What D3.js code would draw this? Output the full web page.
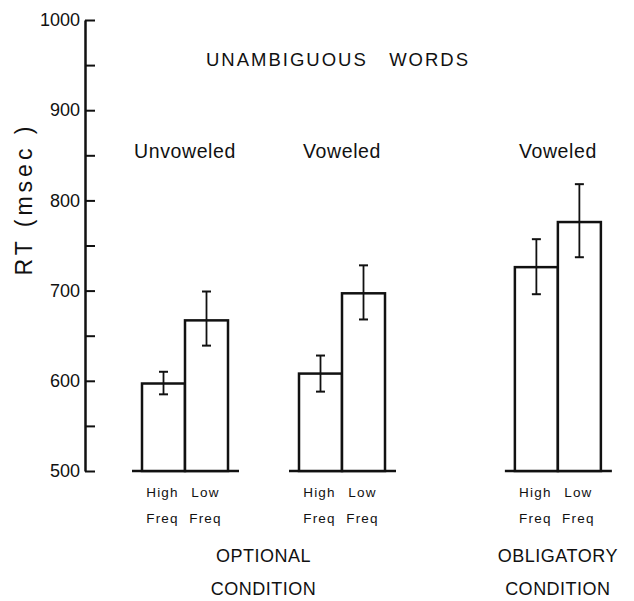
<!DOCTYPE html>
<html>
<head>
<meta charset="utf-8">
<script src="https://cdn.jsdelivr.net/npm/d3@7"></script>
<style>
  body { margin: 0; background: #fff; }
  text { font-family: "Liberation Sans", Arial, sans-serif; fill: #111; }
</style>
</head>
<body>
<div id="container"></div>
<script>
/* DATA */
const groups = ["Unvoweled", "Voweled", "Voweled"];
const conditions = ["OPTIONAL", "OPTIONAL", "OBLIGATORY"];
const freqs = ["High", "Low"];
const rtMean = [[597, 667], [608, 697], [726, 776]];
const rtUpper = [[610, 699], [628, 728], [757, 818]];
const rtLower = [[585, 639], [588, 668], [696, 737]];
const yTicks = [500, 550, 600, 650, 700, 750, 800, 850, 900, 950, 1000];
const yLabels = [500, 600, 700, 800, 900, 1000];

/* CONSTANTS AND GLOBALS */
const width = 634;
const height = 601;
const condGap = 0.375; // extra space between the two conditions, in group units

// one row per bar
const bars = [];
groups.forEach((g, i) => {
  freqs.forEach((f, j) => {
    bars.push({
      group: i,
      freq: f,
      mean: rtMean[i][j],
      hi: rtUpper[i][j],
      lo: rtLower[i][j]
    });
  });
});

const slot = i => i + (conditions[i] !== conditions[0] ? condGap : 0);

/* SCALES */
const yScale = d3.scaleLinear()
  .domain([500, 1000])
  .range([471, 20]);

const xScale = d3.scaleLinear()
  .domain([0, 1])
  .range([185, 342]);

const fScale = d3.scaleBand()
  .domain(freqs)
  .range([-43, 43])
  .padding(0);

const barX = d => xScale(slot(d.group)) + fScale(d.freq);
const barMid = d => barX(d) + fScale.bandwidth() / 2;

/* HTML ELEMENTS */
const svg = d3.select("#container")
  .append("svg")
  .attr("width", width)
  .attr("height", height);

// y axis
const yAxis = d3.axisLeft(yScale)
  .tickValues(yTicks)
  .tickSizeInner(-10)
  .tickSizeOuter(0)
  .tickPadding(5)
  .tickFormat(d => yLabels.includes(d) ? d : "");

const yG = svg.append("g")
  .attr("transform", "translate(85, 0)")
  .call(yAxis);

yG.select(".domain")
  .attr("stroke", "#111")
  .attr("stroke-width", 2.5);
yG.selectAll(".tick line")
  .attr("stroke", "#111")
  .attr("stroke-width", 2);
yG.selectAll(".tick text")
  .style("font-size", "18px")
  .style("font-family", "'Liberation Sans', Arial, sans-serif")
  .attr("fill", "#111");

// y axis title
svg.append("text")
  .attr("transform", "rotate(-90)")
  .attr("x", -199)
  .attr("y", 32)
  .attr("text-anchor", "middle")
  .style("font-size", "23px")
  .style("letter-spacing", "4px")
  .style("white-space", "pre")
  .text("RT (msec )");

// baseline under each group
svg.selectAll(".base")
  .data(groups)
  .join("line")
  .attr("class", "base")
  .attr("x1", (d, i) => xScale(slot(i)) - 53)
  .attr("x2", (d, i) => xScale(slot(i)) + 54)
  .attr("y1", yScale(500))
  .attr("y2", yScale(500))
  .attr("stroke", "#111")
  .attr("stroke-width", 2.5);

// bars
svg.selectAll(".bar")
  .data(bars)
  .join("rect")
  .attr("class", "bar")
  .attr("x", barX)
  .attr("y", d => yScale(d.mean))
  .attr("width", fScale.bandwidth())
  .attr("height", d => yScale(500) - yScale(d.mean))
  .attr("fill", "#fff")
  .attr("stroke", "#111")
  .attr("stroke-width", 2.5);

// error bars
svg.selectAll(".err")
  .data(bars)
  .join("line")
  .attr("class", "err")
  .attr("x1", barMid)
  .attr("x2", barMid)
  .attr("y1", d => yScale(d.hi))
  .attr("y2", d => yScale(d.lo))
  .attr("stroke", "#111")
  .attr("stroke-width", 1.8);

["hi", "lo"].forEach(k => {
  svg.selectAll(".cap-" + k)
    .data(bars)
    .join("line")
    .attr("class", "cap-" + k)
    .attr("x1", d => barMid(d) - 4.5)
    .attr("x2", d => barMid(d) + 4.5)
    .attr("y1", d => yScale(d[k]))
    .attr("y2", d => yScale(d[k]))
    .attr("stroke", "#111")
    .attr("stroke-width", 2);
});

// title
svg.append("text")
  .attr("x", 338)
  .attr("y", 66)
  .attr("text-anchor", "middle")
  .style("font-size", "18.5px")
  .style("letter-spacing", "2px")
  .style("white-space", "pre")
  .text("UNAMBIGUOUS   WORDS");

// group labels
svg.selectAll(".group-label")
  .data(groups)
  .join("text")
  .attr("class", "group-label")
  .attr("x", (d, i) => xScale(slot(i)))
  .attr("y", 158)
  .attr("text-anchor", "middle")
  .style("font-size", "19.5px")
  .style("letter-spacing", "0.6px")
  .text(d => d);

// frequency labels
svg.selectAll(".freq-label")
  .data(bars)
  .join("text")
  .attr("class", "freq-label")
  .attr("x", d => barMid(d) - 1)
  .attr("y", 497)
  .attr("text-anchor", "middle")
  .style("font-size", "13.5px")
  .style("letter-spacing", "1.2px")
  .text(d => d.freq);

svg.selectAll(".freq-label2")
  .data(bars)
  .join("text")
  .attr("class", "freq-label2")
  .attr("x", d => barMid(d) - 1)
  .attr("y", 523)
  .attr("text-anchor", "middle")
  .style("font-size", "13.5px")
  .style("letter-spacing", "1.2px")
  .text("Freq");

// condition labels
const condNames = Array.from(new Set(conditions));
const condX = c => d3.mean(groups.map((g, i) => i).filter(i => conditions[i] === c), i => xScale(slot(i)));

svg.selectAll(".cond-label")
  .data(condNames)
  .join("text")
  .attr("class", "cond-label")
  .attr("x", condX)
  .attr("y", 562)
  .attr("text-anchor", "middle")
  .style("font-size", "18px")
  .style("letter-spacing", "0.5px")
  .text(d => d);

svg.selectAll(".cond-label2")
  .data(condNames)
  .join("text")
  .attr("class", "cond-label2")
  .attr("x", condX)
  .attr("y", 595)
  .attr("text-anchor", "middle")
  .style("font-size", "18px")
  .style("letter-spacing", "0.5px")
  .text("CONDITION");
</script>
</body>
</html>
